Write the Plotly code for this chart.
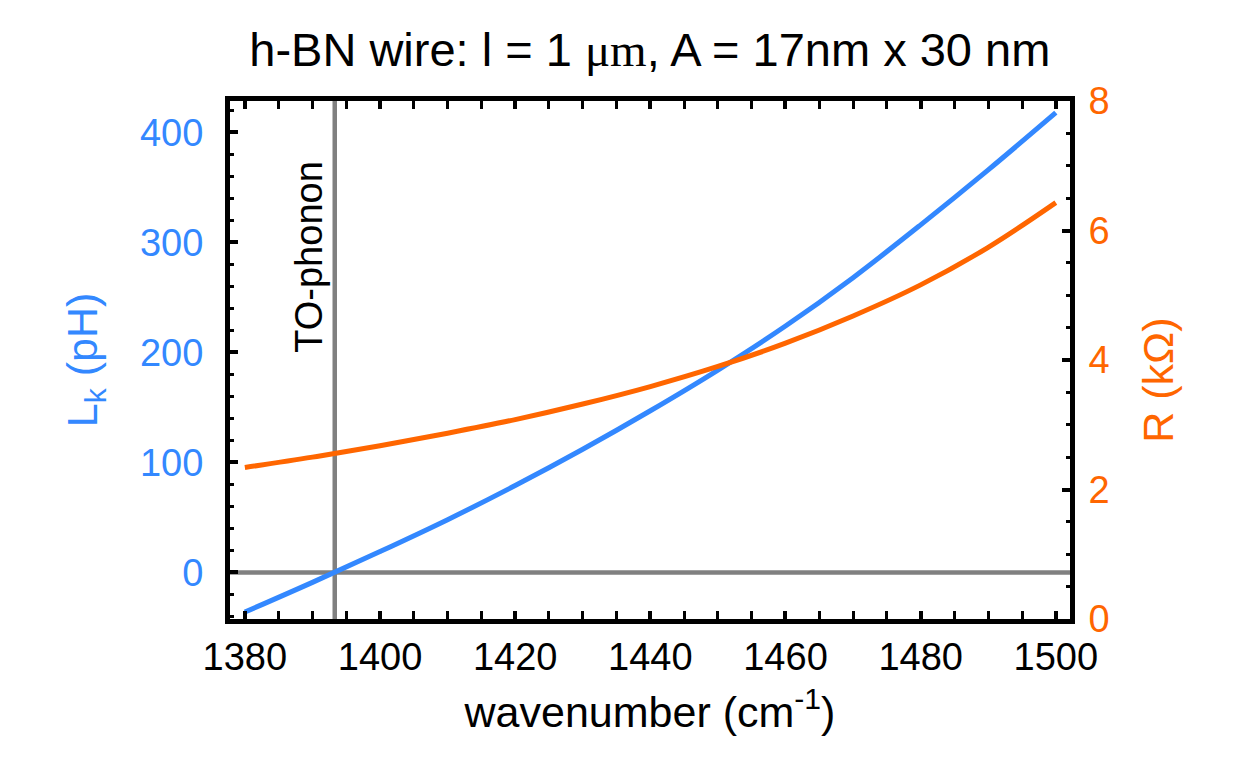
import plotly.graph_objects as go

# Data
wavenumber = [1380, 1390, 1400, 1410, 1420, 1430, 1440, 1450, 1460, 1470, 1480, 1490, 1500]
Lk_pH = [-36, -9, 19, 48, 79, 112, 147, 184, 224, 268, 316, 366, 418]
R_kOhm = [2.34, 2.50, 2.675, 2.87, 3.08, 3.32, 3.59, 3.90, 4.26, 4.68, 5.16, 5.74, 6.43]
to_phonon = 1393.3

x_ticks = [1380, 1400, 1420, 1440, 1460, 1480, 1500]
yl_ticks = [0, 100, 200, 300, 400]
yr_ticks = [0, 2, 4, 6, 8]

BLUE = "#3388ff"
ORANGE = "#ff6600"
GRAY = "#808080"
FONT = "Liberation Sans, Arial, sans-serif"

fig = go.Figure()
fig.add_trace(go.Scatter(x=wavenumber, y=Lk_pH, mode="lines", line=dict(color=BLUE, width=5, shape="spline"),
                         yaxis="y", showlegend=False))
fig.add_trace(go.Scatter(x=wavenumber, y=R_kOhm, mode="lines", line=dict(color=ORANGE, width=5, shape="spline"),
                         yaxis="y2", showlegend=False))

# gray reference lines
fig.add_shape(type="line", xref="x", yref="paper", x0=to_phonon, x1=to_phonon, y0=0, y1=1,
              line=dict(color=GRAY, width=4.5), layer="below")
fig.add_shape(type="line", xref="paper", yref="y", x0=0, x1=1, y0=0, y1=0,
              line=dict(color=GRAY, width=4.5), layer="below")

fig.add_annotation(x=to_phonon, xref="x", xanchor="right", xshift=-3, y=1, yref="paper", yanchor="top", yshift=-58,
                   text="TO-phonon", textangle=-90, showarrow=False,
                   font=dict(family=FONT, size=38, color="black"))

# right axis title placed as annotation (slightly below centre, as in the reference)
fig.add_annotation(x=1, xref="paper", xanchor="center", xshift=88, y=0.46, yref="paper", yanchor="middle",
                   text="R (kΩ)", textangle=-90, showarrow=False,
                   font=dict(family=FONT, size=43, color=ORANGE))

fig.update_layout(
    width=1233, height=759,
    margin=dict(l=230, r=163, t=101, b=140),
    paper_bgcolor="white", plot_bgcolor="white",
    title=dict(text="h-BN wire: l = 1 <span style='font-family:Liberation Serif'>μm</span>, A = 17nm x 30 nm",
               x=0.527, xanchor="center", y=0.935, yanchor="middle",
               font=dict(family=FONT, size=47, color="black")),
    xaxis=dict(range=[1377.8, 1502.1], tickvals=x_ticks, ticks="inside", ticklen=8, tickwidth=4,
               tickcolor="black", showline=True, linewidth=5, linecolor="black", mirror="allticks",
               showgrid=False, zeroline=False,
               minor=dict(dtick=5, tick0=1380, ticks="inside", ticklen=4, tickwidth=3, tickcolor="black"),
               tickfont=dict(family=FONT, size=38, color="black"),
               title=dict(text="wavenumber (cm<sup>-1</sup>)", font=dict(family=FONT, size=43, color="black"),
                          standoff=22)),
    yaxis=dict(range=[-42.3, 428.6], tickvals=yl_ticks, ticks="inside", ticklen=8, tickwidth=4,
               tickcolor="black", showline=True, linewidth=5, linecolor="black", mirror=True,
               showgrid=False, zeroline=False,
               minor=dict(dtick=20, tick0=0, ticks="inside", ticklen=4, tickwidth=3, tickcolor="black"),
               tickfont=dict(family=FONT, size=38, color=BLUE), ticklabelstandoff=14,
               title=dict(text="L<sub>k</sub> (pH)", font=dict(family=FONT, size=43, color=BLUE), standoff=30)),
    yaxis2=dict(range=[0, 8], overlaying="y", side="right", tickvals=yr_ticks, ticks="inside", ticklen=8,
                tickwidth=4, tickcolor="black", showline=True, linewidth=5, linecolor="black",
                showgrid=False, zeroline=False,
                minor=dict(dtick=0.5, tick0=0, ticks="inside", ticklen=4, tickwidth=3, tickcolor="black"),
                tickfont=dict(family=FONT, size=38, color=ORANGE), ticklabelstandoff=6),
)

fig.write_html("out.html")
